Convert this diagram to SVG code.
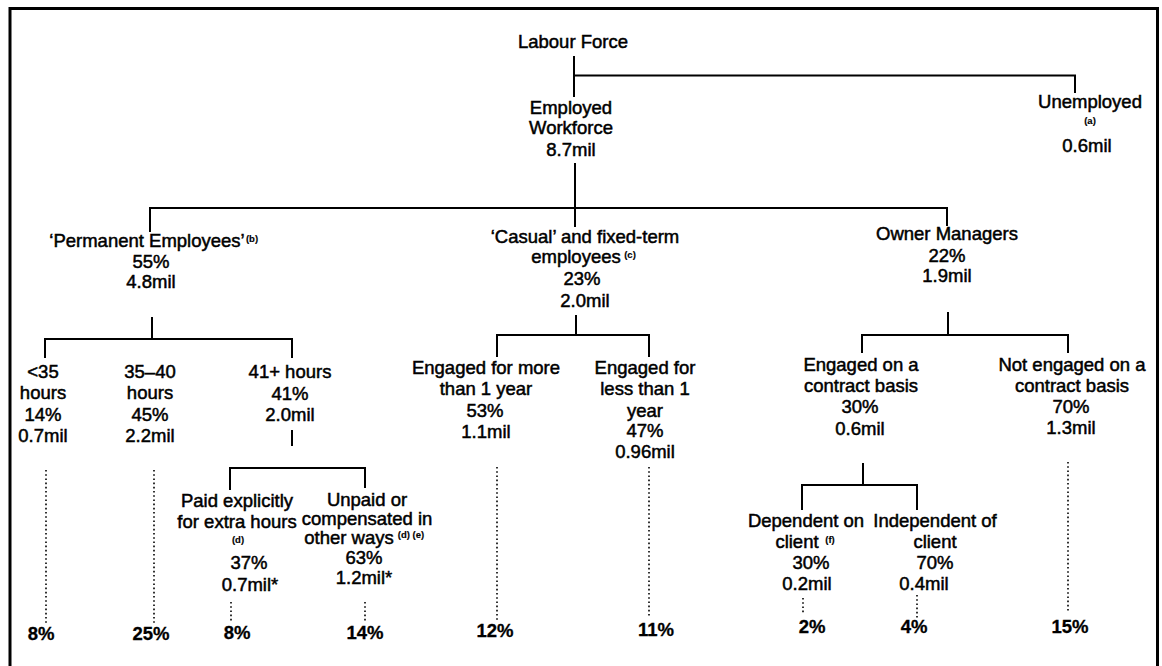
<svg xmlns="http://www.w3.org/2000/svg" width="1162" height="666" viewBox="0 0 1162 666">
  <style>
    .t { font-family: "Liberation Sans", Arial, Helvetica, sans-serif; font-size: 18.5px; fill: #000; text-anchor: middle; stroke: #000; stroke-width: 0.5; }
    .pct { font-weight: bold; stroke-width: 0.3; }
    .sup { font-size: 9.5px; font-weight: bold; stroke-width: 0.15; }
    .ln { fill: none; stroke: #000; stroke-width: 2; }
    .dot { fill: none; stroke: #000; stroke-width: 1.6; stroke-dasharray: 1.6 2.6; }
    .frame { fill: none; stroke: #000; stroke-width: 3; }
  </style>

  <rect x="0" y="0" width="1162" height="666" fill="#fff"/>
  <!-- outer frame, open at the bottom -->
  <path class="frame" d="M10 670 V8.5 H1157.5 V670"/>

  <!-- tree connectors -->
  <g id="connectors">
    <path class="ln" d="M574 56 V97"/>
    <path class="ln" d="M574 75.5 H1075 V93"/>
    <path class="ln" d="M575 163 V227"/>
    <path class="ln" d="M150 232 V208 H947 V226"/>
    <path class="ln" d="M152 317 V339"/>
    <path class="ln" d="M45 358 V339 H292 V358"/>
    <path class="ln" d="M292 430 V446"/>
    <path class="ln" d="M230 490 V468 H365 V488"/>
    <path class="ln" d="M576 315 V335"/>
    <path class="ln" d="M497 357 V335 H649 V357"/>
    <path class="ln" d="M948 312 V335"/>
    <path class="ln" d="M862 353 V335 H1068 V353"/>
    <path class="ln" d="M863 463 V485"/>
    <path class="ln" d="M802 510 V485 H917 V510"/>
    <!-- dotted leaders to the bottom percentages -->
    <path class="dot" d="M46 470 V623"/>
    <path class="dot" d="M154 470 V623"/>
    <path class="dot" d="M231 602 V623"/>
    <path class="dot" d="M365 602 V622"/>
    <path class="dot" d="M497 467 V620"/>
    <path class="dot" d="M649 467 V618"/>
    <path class="dot" d="M803 598 V613"/>
    <path class="dot" d="M917 595 V618"/>
    <path class="dot" d="M1068 462 V613"/>
  </g>

  <g id="labour-force">
    <text class="t" x="573" y="48">Labour Force</text>
  </g>

  <g id="employed-workforce">
    <text class="t" x="571" y="114">Employed</text>
    <text class="t" x="571" y="134">Workforce</text>
    <text class="t" x="571" y="156">8.7mil</text>
  </g>

  <g id="unemployed">
    <text class="t" x="1090" y="108">Unemployed</text>
    <text class="t sup" x="1090" y="124">(a)</text>
    <text class="t" x="1087" y="152">0.6mil</text>
  </g>

  <g id="permanent-employees">
    <text class="t" x="147" y="247">‘Permanent Employees’</text>
    <text class="t sup" x="252" y="242">(b)</text>
    <text class="t" x="151" y="268">55%</text>
    <text class="t" x="151" y="288">4.8mil</text>
  </g>

  <g id="casual-fixed-term">
    <text class="t" x="585" y="243">‘Casual’ and fixed-term</text>
    <text class="t" x="576" y="263">employees</text>
    <text class="t sup" x="630" y="258">(c)</text>
    <text class="t" x="582" y="285">23%</text>
    <text class="t" x="585" y="307">2.0mil</text>
  </g>

  <g id="owner-managers">
    <text class="t" x="947" y="240">Owner Managers</text>
    <text class="t" x="947" y="262">22%</text>
    <text class="t" x="947" y="282">1.9mil</text>
  </g>

  <g id="under-35-hours">
    <text class="t" x="43" y="378">&lt;35</text>
    <text class="t" x="43" y="399">hours</text>
    <text class="t" x="43" y="421">14%</text>
    <text class="t" x="43" y="442">0.7mil</text>
    <text class="t pct" x="41" y="640">8%</text>
  </g>

  <g id="hours-35-40">
    <text class="t" x="150" y="378">35–40</text>
    <text class="t" x="150" y="399">hours</text>
    <text class="t" x="150" y="421">45%</text>
    <text class="t" x="150" y="442">2.2mil</text>
    <text class="t pct" x="151" y="640">25%</text>
  </g>

  <g id="hours-41-plus">
    <text class="t" x="290" y="378">41+ hours</text>
    <text class="t" x="290" y="400">41%</text>
    <text class="t" x="290" y="421">2.0mil</text>
  </g>

  <g id="paid-extra-hours">
    <text class="t" x="237" y="507">Paid explicitly</text>
    <text class="t" x="237" y="528">for extra hours</text>
    <text class="t sup" x="238" y="543">(d)</text>
    <text class="t" x="249" y="569">37%</text>
    <text class="t" x="250" y="591">0.7mil*</text>
    <text class="t pct" x="237" y="639">8%</text>
  </g>

  <g id="unpaid-compensated">
    <text class="t" x="367" y="506">Unpaid or</text>
    <text class="t" x="367" y="525">compensated in</text>
    <text class="t" x="349" y="544">other ways</text>
    <text class="t sup" x="411" y="538">(d) (e)</text>
    <text class="t" x="364" y="564">63%</text>
    <text class="t" x="364" y="584">1.2mil*</text>
    <text class="t pct" x="365" y="639">14%</text>
  </g>

  <g id="engaged-more-than-1-year">
    <text class="t" x="486" y="374">Engaged for more</text>
    <text class="t" x="486" y="395">than 1 year</text>
    <text class="t" x="485" y="417">53%</text>
    <text class="t" x="486" y="438">1.1mil</text>
    <text class="t pct" x="495" y="637">12%</text>
  </g>

  <g id="engaged-less-than-1-year">
    <text class="t" x="645" y="374">Engaged for</text>
    <text class="t" x="645" y="395">less than 1</text>
    <text class="t" x="645" y="417">year</text>
    <text class="t" x="645" y="437">47%</text>
    <text class="t" x="645" y="458">0.96mil</text>
    <text class="t pct" x="656" y="636">11%</text>
  </g>

  <g id="engaged-contract-basis">
    <text class="t" x="861" y="371">Engaged on a</text>
    <text class="t" x="861" y="392">contract basis</text>
    <text class="t" x="860" y="413">30%</text>
    <text class="t" x="860" y="435">0.6mil</text>
  </g>

  <g id="not-engaged-contract-basis">
    <text class="t" x="1072" y="371">Not engaged on a</text>
    <text class="t" x="1072" y="392">contract basis</text>
    <text class="t" x="1071" y="413">70%</text>
    <text class="t" x="1071" y="434">1.3mil</text>
    <text class="t pct" x="1070" y="633">15%</text>
  </g>

  <g id="dependent-on-client">
    <text class="t" x="806" y="527">Dependent on</text>
    <text class="t" x="797" y="548">client</text>
    <text class="t sup" x="830" y="543">(f)</text>
    <text class="t" x="811" y="569">30%</text>
    <text class="t" x="807" y="590">0.2mil</text>
    <text class="t pct" x="812" y="633">2%</text>
  </g>

  <g id="independent-of-client">
    <text class="t" x="935" y="527">Independent of</text>
    <text class="t" x="935" y="548">client</text>
    <text class="t" x="935" y="569">70%</text>
    <text class="t" x="924" y="590">0.4mil</text>
    <text class="t pct" x="914" y="633">4%</text>
  </g>
</svg>
